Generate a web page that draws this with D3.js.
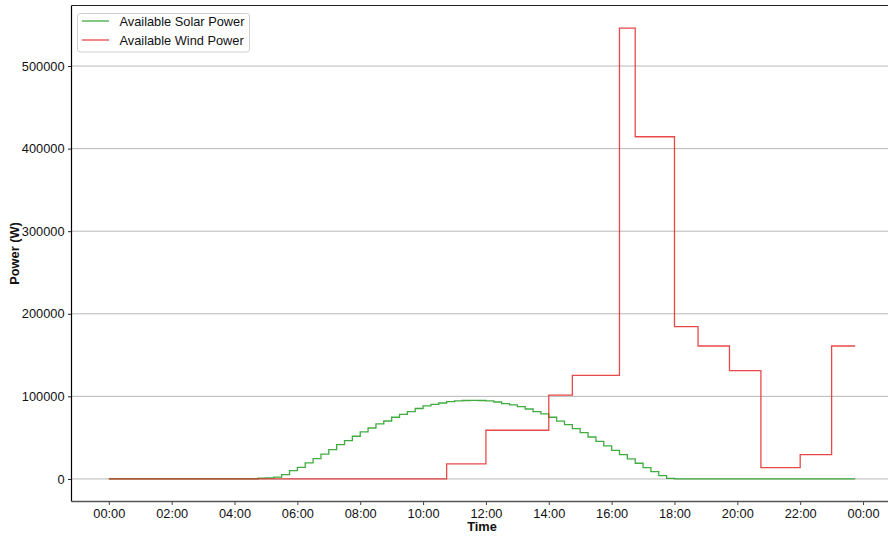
<!DOCTYPE html>
<html>
<head>
<meta charset="utf-8">
<script src="https://cdn.jsdelivr.net/npm/d3@7"></script>
<style>
  html, body { margin: 0; padding: 0; background: #fff; }
  svg { display: block; font-family: "Liberation Sans", Arial, sans-serif; }
</style>
</head>
<body>
<svg id="chart" width="888" height="536"></svg>
<script>
// ---- data (15-minute intervals starting at 00:00) ----
const seriesNames = ["Available Solar Power", "Available Wind Power"];
const solarPower = [
  0,0,0,0,0,0,0,0,0,0,0,0,0,0,0,0,0,0,0,
  1000,1300,2200,5200,10000,14000,19400,24500,30000,35500,41500,46400,51700,57000,
  61700,66600,70200,74700,78300,81500,85300,88400,90400,92000,93600,94600,95000,
  95100,95000,94600,93200,91200,89600,87500,84700,81500,78700,74700,70000,65700,
  60900,56000,50800,45600,40000,34700,29400,24200,19000,13700,8800,4000,800,
  0,0,0,0,0,0,0,0,0,0,0,0,0,0,0,0,0,0,0,0,0,0,0,0
];
const windPower = [
  0,0,0,0,0,0,0,0,0,0,0,0,0,0,0,0,0,0,0,0,0,0,0,0,
  0,0,0,0,0,0,0,0,0,0,0,0,0,0,0,0,0,0,0,
  18200,18200,18200,18200,18200,
  59000,59000,59000,59000,59000,59000,59000,59000,
  101500,101500,101500,
  125500,125500,125500,125500,125500,125500,
  546000,546000,
  414400,414400,414400,414400,414400,
  184400,184400,184400,
  161000,161000,161000,161000,
  131100,131100,131100,131100,
  13700,13700,13700,13700,13700,
  29400,29400,29400,29400,
  161000,161000,161000,161000
];
const yTickValues = [0, 100000, 200000, 300000, 400000, 500000];
const xLabel = "Time";
const yLabel = "Power (W)";

(function () {
// ---- layout ----
const svg = d3.select("#chart");
const pLeft = 71.5, pRight = 892.5, pTop = 5.5, pBottom = 501.5;
const fs = 12.8;
const day0 = new Date(2020, 0, 1, 0, 0, 0);
const stepMs = 15 * 60 * 1000;
const times = solarPower.map((_, i) => new Date(day0.getTime() + i * stepMs));
const tMax = times[times.length - 1].getTime() - day0.getTime();
const xPad = tMax * 0.05;
const x = d3.scaleTime()
  .domain([new Date(day0.getTime() - xPad), new Date(day0.getTime() + tMax + xPad)])
  .range([pLeft, pRight]);
const yMaxData = d3.max([d3.max(solarPower), d3.max(windPower)]);
const yPad = yMaxData * 0.05;
const y = d3.scaleLinear().domain([-yPad, yMaxData + yPad]).range([pBottom, pTop]);

// clip
svg.append("defs").append("clipPath").attr("id", "clip")
  .append("rect").attr("x", pLeft).attr("y", pTop).attr("width", pRight - pLeft).attr("height", pBottom - pTop);

// grid
svg.append("g").selectAll("line").data(yTickValues).join("line")
  .attr("x1", pLeft).attr("x2", pRight)
  .attr("y1", d => y(d)).attr("y2", d => y(d))
  .attr("stroke", "#b8b8b8").attr("stroke-width", 1);

// lines
const line = d3.line()
  .x((d, i) => x(times[i]))
  .y(d => y(d))
  .curve(d3.curveStepAfter);
const plot = svg.append("g").attr("clip-path", "url(#clip)");
plot.append("path").datum(solarPower)
  .attr("d", line).attr("fill", "none")
  .attr("stroke", "#1f9c1f").attr("stroke-opacity", 0.85).attr("stroke-width", 1.3);
plot.append("path").datum(windPower)
  .attr("d", line).attr("fill", "none")
  .attr("stroke", "#e31a1c").attr("stroke-opacity", 0.8).attr("stroke-width", 1.3);

// x axis
const xAxis = d3.axisBottom(x)
  .ticks(d3.timeHour.every(2))
  .tickFormat(d3.timeFormat("%H:%M"))
  .tickSize(3.5).tickPadding(3.5);
const gx = svg.append("g").attr("transform", `translate(0,${pBottom})`).call(xAxis);
gx.select(".domain").remove();
gx.selectAll(".tick line").attr("stroke", "#444").attr("stroke-width", 1);
gx.selectAll(".tick text").attr("font-size", fs).attr("fill", "#111")
  .attr("font-family", "Liberation Sans, Arial, sans-serif");

// y axis
const yAxis = d3.axisLeft(y).tickValues(yTickValues).tickFormat(d3.format("d"))
  .tickSize(3.5).tickPadding(3.5);
const gy = svg.append("g").attr("transform", `translate(${pLeft},0)`).call(yAxis);
gy.select(".domain").remove();
gy.selectAll(".tick line").attr("stroke", "#222");
gy.selectAll(".tick text").attr("font-size", fs).attr("fill", "#111")
  .attr("font-family", "Liberation Sans, Arial, sans-serif");

// spines
svg.append("line").attr("x1", pLeft).attr("x2", pLeft).attr("y1", pTop).attr("y2", pBottom)
  .attr("stroke", "#000").attr("stroke-width", 1.2);
svg.append("line").attr("x1", pLeft).attr("x2", pRight).attr("y1", pTop).attr("y2", pTop)
  .attr("stroke", "#222").attr("stroke-width", 1.2);
svg.append("line").attr("x1", pLeft).attr("x2", pRight).attr("y1", pBottom).attr("y2", pBottom)
  .attr("stroke", "#555").attr("stroke-width", 1.5);

// axis labels
svg.append("text").attr("x", (pLeft + pRight) / 2).attr("y", 531)
  .attr("text-anchor", "middle").attr("font-weight", "bold").attr("font-size", fs)
  .attr("fill", "#111").text(xLabel);
svg.append("text").attr("transform", `translate(18.5,${(pTop + pBottom) / 2}) rotate(-90)`)
  .attr("text-anchor", "middle").attr("font-weight", "bold").attr("font-size", fs)
  .attr("fill", "#111").text(yLabel);

// legend
const legend = svg.append("g");
legend.append("rect").attr("x", 77.5).attr("y", 13.5).attr("width", 172).attr("height", 38.5)
  .attr("rx", 3).attr("fill", "#fff").attr("fill-opacity", 0.8)
  .attr("stroke", "#d0d0d0").attr("stroke-width", 1);
const legendColors = ["#1f9c1f", "#e31a1c"];
const legendOpac = [0.85, 0.8];
seriesNames.forEach((name, i) => {
  const ly = 21 + i * 19;
  legend.append("line").attr("x1", 82).attr("x2", 109).attr("y1", ly).attr("y2", ly)
    .attr("stroke", legendColors[i]).attr("stroke-opacity", legendOpac[i]).attr("stroke-width", 1.3);
  legend.append("text").attr("x", 119.5).attr("y", ly + 4.5).attr("font-size", fs)
    .attr("fill", "#111").text(name);
});
})();
</script>
</body>
</html>
